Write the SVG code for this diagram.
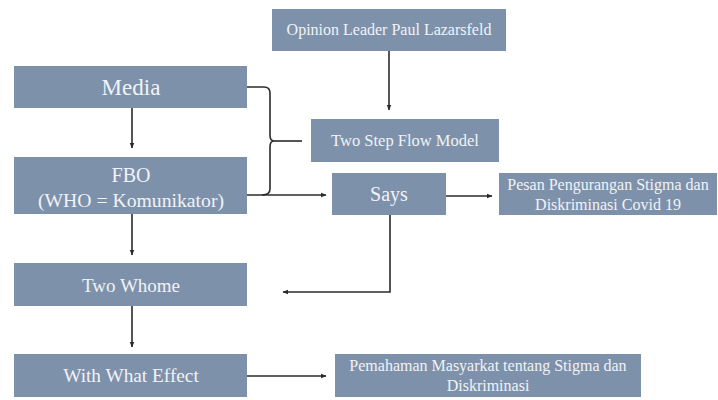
<svg xmlns="http://www.w3.org/2000/svg" width="718" height="400" viewBox="0 0 718 400" font-family="Liberation Serif, Times New Roman, serif">
<style>
.box{fill:#7d91ab}
.t{fill:#f1f3f6;text-anchor:middle}
.c{fill:none;stroke:#2b2b2b;stroke-width:1.6}
</style>
<defs>
<marker id="ah" viewBox="0 0 10 10" refX="9" refY="5" markerWidth="6" markerHeight="6" markerUnits="userSpaceOnUse" orient="auto">
<path d="M0,1 L10,5 L0,9 z" fill="#2b2b2b"/>
</marker>
</defs>
<rect width="718" height="400" fill="#ffffff"/>
<g id="opinion"><rect class="box" x="272" y="9" width="234" height="42"/><text class="t" x="389" y="35" font-size="16">Opinion Leader Paul Lazarsfeld</text></g>
<g id="media"><rect class="box" x="14" y="66" width="233" height="42"/><text class="t" x="131" y="95" font-size="23">Media</text></g>
<g id="twostep"><rect class="box" x="311" y="119" width="188" height="43"/><text class="t" x="405" y="146" font-size="16.5">Two Step Flow Model</text></g>
<g id="fbo"><rect class="box" x="14" y="157" width="233" height="57"/><text class="t" x="131" y="182" font-size="20">FBO</text><text class="t" x="131" y="207" font-size="19.7">(WHO = Komunikator)</text></g>
<g id="says"><rect class="box" x="332" y="173" width="114" height="42"/><text class="t" x="389" y="201" font-size="20">Says</text></g>
<g id="pesan"><rect class="box" x="499" y="173" width="218" height="42"/><text class="t" x="608" y="190" font-size="16">Pesan Pengurangan Stigma dan</text><text class="t" x="608" y="210" font-size="16">Diskriminasi Covid 19</text></g>
<g id="twowhome"><rect class="box" x="14" y="263" width="233" height="43"/><text class="t" x="131" y="292" font-size="19">Two Whome</text></g>
<g id="effect"><rect class="box" x="14" y="354" width="233" height="43"/><text class="t" x="131" y="382" font-size="19.3">With What Effect</text></g>
<g id="pemahaman"><rect class="box" x="335" y="354" width="306" height="43"/><text class="t" x="488" y="371" font-size="16">Pemahaman Masyarkat tentang Stigma dan</text><text class="t" x="488" y="391" font-size="16">Diskriminasi</text></g>
<g id="connectors">
<path class="c" d="M389,51 V110" marker-end="url(#ah)"/>
<path class="c" d="M132,108 V148" marker-end="url(#ah)"/>
<path class="c" d="M247,87 H264 Q270,87 270,93 V135 Q270,141 274,141 Q270,141 270,147 V189 Q270,195 262,195"/>
<path class="c" d="M274,141 H302"/>
<path class="c" d="M247,195 H326" marker-end="url(#ah)"/>
<path class="c" d="M446,196 H492" marker-end="url(#ah)"/>
<path class="c" d="M390,215 V292 H283" marker-end="url(#ah)"/>
<path class="c" d="M132,214 V255" marker-end="url(#ah)"/>
<path class="c" d="M132,306 V347" marker-end="url(#ah)"/>
<path class="c" d="M247,376 H326" marker-end="url(#ah)"/>
</g>
</svg>
